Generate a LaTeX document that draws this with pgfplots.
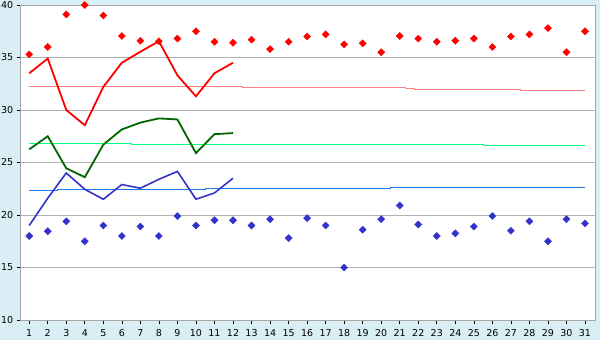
\documentclass[border=0pt]{standalone}
\usepackage{pgfplots}
\pgfplotsset{compat=1.18}
\usepackage{fontspec}
\setmainfont{DejaVu Sans}
\definecolor{bgblue}{RGB}{217,239,245}
\definecolor{gridgray}{RGB}{178,178,178}
\definecolor{bordergray}{RGB}{168,168,168}
\definecolor{redmark}{RGB}{255,0,0}
\definecolor{redavg}{RGB}{255,128,128}
\definecolor{greenline}{RGB}{0,102,0}
\definecolor{greenavg}{RGB}{0,255,128}
\definecolor{blueline}{RGB}{51,51,204}
\definecolor{blueavg}{RGB}{30,120,230}
\begin{document}
\begin{tikzpicture}[x=1pt,y=1pt]
\fill[bgblue] (0,0) rectangle (600,340);
\begin{axis}[
  at={(20.7pt,20pt)}, anchor=south west,
  scale only axis, width=574.3pt, height=315pt,
  xmin=0.54, xmax=31.54, ymin=10, ymax=40,
  xtick={1,...,31}, ytick={10,15,...,40},
  ymajorgrids, major grid style={color=gridgray, line width=0.8pt},
  axis line style={color=bordergray, line width=0.9pt},
  tick align=outside, major tick length=4pt,
  tick style={black, line width=0.6pt},
  xtick pos=bottom, ytick pos=left,
  ticklabel style={font=\fontsize{9.5}{9.5}\selectfont},
  xticklabel style={yshift=-2pt},
  /pgf/number format/assume math mode=true,
  axis background/.style={fill=white},
  clip=false,
]
% averages
\addplot[redavg, line width=1pt] coordinates {(1,32.25)(12.5,32.25)(12.5,32.15)(21.3,32.15)(21.3,32.06)(21.8,32.06)(21.8,31.97)(27.5,31.97)(27.5,31.87)(31,31.87)};
\addplot[greenavg, line width=1pt] coordinates {(1,26.83)(6.5,26.83)(6.5,26.73)(25.5,26.73)(25.5,26.64)(31,26.64)};
\addplot[blueavg, line width=1pt] coordinates {(1,22.35)(2.5,22.35)(2.5,22.45)(10.5,22.45)(10.5,22.54)(20.5,22.54)(20.5,22.64)(31,22.64)};
% lines
\addplot[redmark, line width=1.8pt] coordinates {(1,33.5)(2,34.9)(3,30.0)(4,28.55)(5,32.2)(6,34.5)(7,35.55)(8,36.55)(9,33.3)(10,31.3)(11,33.5)(12,34.5)};
\addplot[greenline, line width=1.8pt] coordinates {(1,26.25)(2,27.5)(3,24.45)(4,23.6)(5,26.7)(6,28.15)(7,28.8)(8,29.2)(9,29.1)(10,25.9)(11,27.7)(12,27.8)};
\addplot[blueline, line width=1.6pt] coordinates {(1,19.0)(2,21.6)(3,24.0)(4,22.45)(5,21.5)(6,22.9)(7,22.55)(8,23.4)(9,24.15)(10,21.5)(11,22.1)(12,23.5)};
% marks
\addplot[only marks, mark=square*, mark options={rotate=45}, mark size=2.5pt, color=redmark] coordinates {
(1,35.3)(2,36.0)(3,39.1)(4,40.0)(5,39.0)(6,37.05)(7,36.6)(8,36.55)(9,36.8)(10,37.5)
(11,36.5)(12,36.4)(13,36.7)(14,35.8)(15,36.5)(16,37.0)(17,37.2)(18,36.25)(19,36.35)(20,35.5)
(21,37.05)(22,36.8)(23,36.5)(24,36.6)(25,36.8)(26,36.0)(27,37.0)(28,37.2)(29,37.8)(30,35.5)(31,37.5)};
\addplot[only marks, mark=square*, mark options={rotate=45}, mark size=2.5pt, color=blueline] coordinates {
(1,18.0)(2,18.45)(3,19.4)(4,17.5)(5,19.0)(6,18.0)(7,18.9)(8,18.0)(9,19.9)(10,19.0)
(11,19.5)(12,19.5)(13,19.0)(14,19.6)(15,17.8)(16,19.7)(17,19.0)(18,15.0)(19,18.6)(20,19.6)
(21,20.9)(22,19.1)(23,18.0)(24,18.25)(25,18.9)(26,19.9)(27,18.5)(28,19.4)(29,17.5)(30,19.6)(31,19.2)};
\end{axis}
\pgfresetboundingbox
\useasboundingbox (0,0) rectangle (600,340);
\end{tikzpicture}
\end{document}
